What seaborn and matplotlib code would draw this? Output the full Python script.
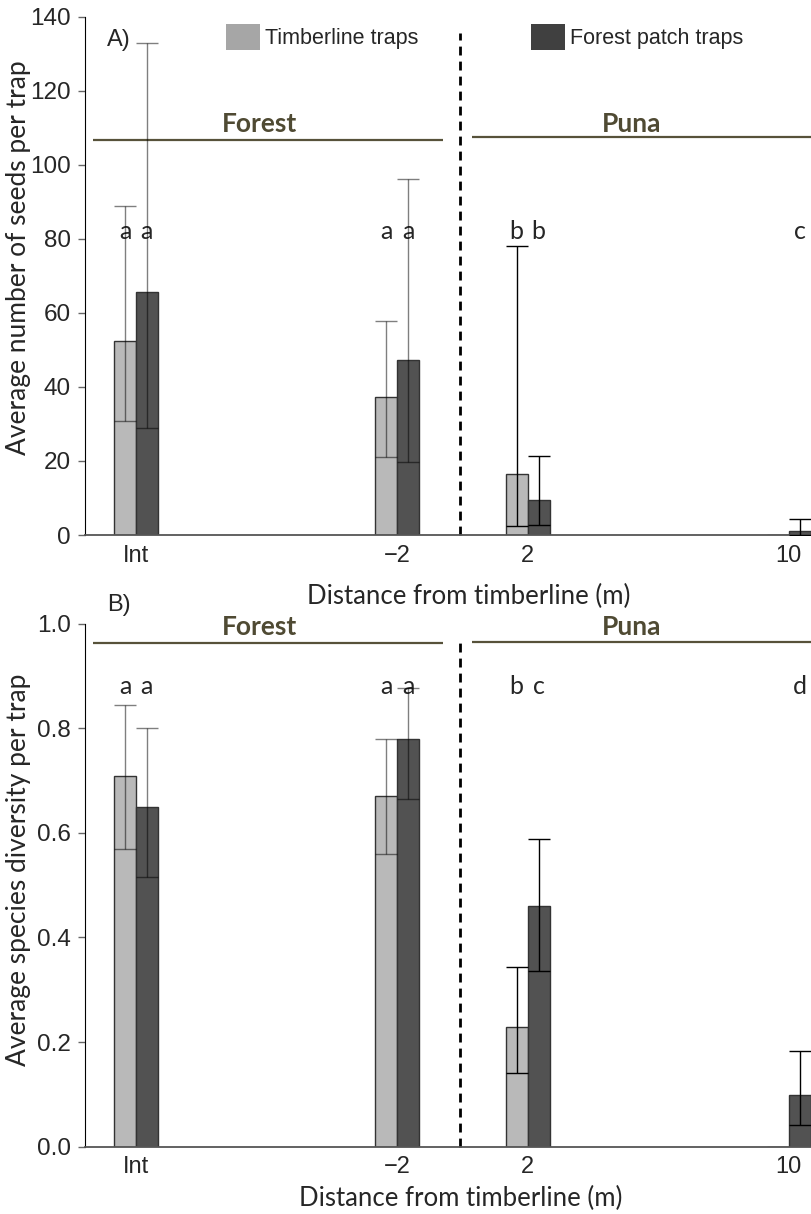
import numpy as np
import pandas as pd
import seaborn as sns
import matplotlib.pyplot as plt
from matplotlib.patches import Patch

# categories (distance from timberline) and where they sit on the x axis
distances = ["Int", "\u22122", "2", "10"]
positions = [0, 2, 3, 5]
groups = ["Timberline traps", "Forest patch traps"]

# A) seeds per trap
seeds_timber = [52.4, 37.3, 16.5, 0.0]
seeds_timber_lo = [30.8, 21.1, 2.4, np.nan]
seeds_timber_hi = [88.8, 57.9, 78.0, np.nan]
seeds_patch = [65.5, 47.2, 9.4, 1.2]
seeds_patch_lo = [29.0, 19.8, 2.6, 0.0]
seeds_patch_hi = [132.9, 96.2, 21.4, 4.2]
seeds_let_timber = ["a", "a", "b", ""]
seeds_let_patch = ["a", "a", "b", "c"]

# B) species diversity per trap
div_timber = [0.71, 0.67, 0.229, 0.0]
div_timber_lo = [0.57, 0.56, 0.141, np.nan]
div_timber_hi = [0.845, 0.78, 0.344, np.nan]
div_patch = [0.65, 0.78, 0.46, 0.098]
div_patch_lo = [0.515, 0.665, 0.336, 0.042]
div_patch_hi = [0.80, 0.877, 0.588, 0.183]
div_let_timber = ["a", "a", "b", ""]
div_let_patch = ["a", "a", "c", "d"]

sns.set_style("ticks")
plt.rcParams['font.family'] = ['Liberation Sans', 'DejaVu Sans']

bar_colors = {groups[0]: "#b9b9b9", groups[1]: "#525252"}
olive = "#57523a"
label_font = "Lato"
width = 0.336
off = width / 4
err_alpha = [0.5, 0.5, 1.0, 1.0]


def panel(ax, timber, t_lo, t_hi, patch, p_lo, p_hi, let_t, let_p,
          ymax, yticks, ylabel, letter_y, hab_y, hab_text_y, dash_top):
    df = pd.DataFrame({
        "pos": positions * 2,
        "trap": [groups[0]] * 4 + [groups[1]] * 4,
        "mean": timber + patch,
        "lo": t_lo + p_lo,
        "hi": t_hi + p_hi,
        "letter": let_t + let_p,
    })
    sns.barplot(data=df, x="pos", y="mean", hue="trap", hue_order=groups,
                palette=bar_colors, native_scale=True, width=width,
                errorbar=None, saturation=1, edgecolor="#333333",
                linewidth=1, legend=False, ax=ax)

    for i, row in df.iterrows():
        x = row["pos"] - off if row["trap"] == groups[0] else row["pos"] + off
        if not np.isnan(row["lo"]):
            a = err_alpha[positions.index(row["pos"])]
            ax.errorbar(x, row["mean"],
                        yerr=[[row["mean"] - row["lo"]], [row["hi"] - row["mean"]]],
                        fmt="none", ecolor="black", alpha=a,
                        elinewidth=1, capsize=8, capthick=1, zorder=4)
        if row["letter"]:
            ax.text(x, letter_y, row["letter"], ha="center", va="center",
                    fontsize=18, family=label_font)

    # habitat bars and timberline
    ax.hlines(hab_y[0], -0.33, 2.35, color=olive, lw=1.6)
    ax.hlines(hab_y[1], 2.57, 5.17, color=olive, lw=1.6, clip_on=False)
    ax.text(0.95, hab_text_y, "Forest", ha="center", va="center",
            fontsize=19, fontweight="bold", family=label_font, color="#4f4a33")
    ax.text(3.80, hab_text_y, "Puna", ha="center", va="center",
            fontsize=19, fontweight="bold", family=label_font, color="#4f4a33")
    ax.vlines(2.48, 0, dash_top, color="black", lw=2, linestyles=(0, (3.2, 2.2)),
              clip_on=False)

    ax.set_xlim(-0.39, 5.17)
    ax.set_ylim(0, ymax)
    ax.set_xticks(positions)
    ax.set_xticklabels(distances)
    ax.set_yticks(yticks)
    ax.tick_params(axis="x", length=0, pad=7, labelsize=17)
    ax.tick_params(axis="y", length=5, width=1, color="#666666", pad=5, labelsize=17.5)
    ax.set_xlabel("Distance from timberline (m)", fontsize=18.5, family=label_font)
    ax.set_ylabel(ylabel, fontsize=19, family=label_font)
    sns.despine(ax=ax)
    ax.spines["left"].set_color("black")
    ax.spines["bottom"].set_color("#555555")
    ax.spines["bottom"].set_linewidth(1.3)


fig = plt.figure(figsize=(8.11, 12.14), dpi=100)
ax1 = fig.add_axes([0.1048, 0.5593, 0.8952, 0.4271])
ax2 = fig.add_axes([0.1048, 0.0556, 0.8952, 0.4304])

panel(ax1, seeds_timber, seeds_timber_lo, seeds_timber_hi,
      seeds_patch, seeds_patch_lo, seeds_patch_hi, seeds_let_timber, seeds_let_patch,
      140, range(0, 141, 20), "Average number of seeds per trap",
      82, (106.6, 107.5), 111, 135.5)
panel(ax2, div_timber, div_timber_lo, div_timber_hi,
      div_patch, div_patch_lo, div_patch_hi, div_let_timber, div_let_patch,
      1.0, np.arange(0, 1.01, 0.2), "Average species diversity per trap",
      0.88, (0.963, 0.966), 0.995, 0.97)
ax2.set_yticklabels([f"{v:.1f}" for v in np.arange(0, 1.01, 0.2)])

ax1.xaxis.set_label_coords(0.529, -0.095)
ax2.xaxis.set_label_coords(0.517, -0.075)
ax1.yaxis.set_label_coords(-0.075, 0.535)
ax2.yaxis.set_label_coords(-0.075, 0.53)

fig.text(107 / 811, 1 - 40 / 1214, "A)", fontsize=17, va="center")
fig.text(107 / 811, 1 - 605 / 1214, "B)", fontsize=17, va="center")

handles = [Patch(facecolor="#a6a6a6", edgecolor="none"),
           Patch(facecolor="#404040", edgecolor="none")]
fig.legend(handles, groups, loc="upper left", bbox_to_anchor=(226 / 811, 1 - 24 / 1214),
           ncol=2, frameon=False, fontsize=15.5, handlelength=1.58, handleheight=1.5,
           handletextpad=0.25, columnspacing=5.2, borderpad=0, borderaxespad=0)

fig.savefig("out.png", dpi=100)
